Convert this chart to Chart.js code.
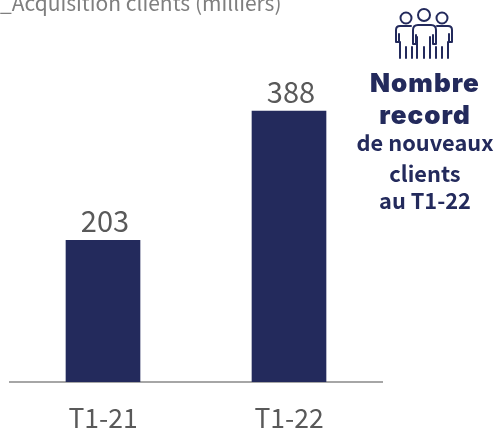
<!DOCTYPE html>
<html><head><meta charset="utf-8">
<script src="https://cdn.jsdelivr.net/npm/chart.js@4"></script>
<style>
html,body{margin:0;padding:0;background:#fff;width:495px;height:432px;overflow:hidden}
#wrap{position:relative;width:495px;height:432px}
canvas{position:absolute;left:0;top:0}
.t{position:absolute;white-space:nowrap}
#title{left:0;top:-11px;font:21px/26px "Noto Sans CJK SC",sans-serif;color:#7f7f7f}
.side{left:340px;width:170px;text-align:center;color:#232a5c}
.big{font:900 26px/30px Inter,sans-serif;letter-spacing:1px}
.small{font:700 21.8px/26px "Noto Sans CJK SC",sans-serif}
#icon{position:absolute;left:395px;top:7px}
</style></head><body>
<div id="wrap">
<canvas id="c" width="495" height="432"></canvas>
<div class="t" id="title">_Acquisition clients (milliers)</div>
<svg id="icon" width="60" height="54" viewBox="0 0 60 54" fill="none" stroke="#232a5c" stroke-width="2" stroke-linecap="round" stroke-linejoin="round">
<circle cx="11" cy="11" r="5.5"/><circle cx="29" cy="8" r="6"/><circle cx="47" cy="11" r="5.5"/>
<path d="M16 19H5q-4 0-4 4v12h3V27M42 19h11q4 0 4 4v12h-3V27"/>
<path d="M23 18h13q5 0 5 5v14h-3V28M21 28v9h-3V23q0-5 5-5"/>
<path d="M5 35v16M11 40v11M17 40v11M22 30v21M29 40v11M35 30v21M41 40v11M47 40v11M53 35v16"/>
</svg>
<div class="t side big" style="top:68px">Nombre</div>
<div class="t side big" style="top:100px">record</div>
<div class="t side small" style="top:129px">de nouveaux</div>
<div class="t side small" style="top:160px">clients</div>
<div class="t side small" style="top:187px">au T1-22</div>
</div>
<script>
const categories = ["T1-21", "T1-22"];
const acquisitions = [203, 388];
const labelPlugin = {
  id: "valueLabels",
  afterDatasetsDraw(chart) {
    const ctx = chart.ctx, meta = chart.getDatasetMeta(0);
    ctx.save();
    ctx.font = '29px "Noto Sans CJK SC", sans-serif';
    ctx.fillStyle = "#595959";
    ctx.textAlign = "center";
    ctx.textBaseline = "alphabetic";
    meta.data.forEach((bar, i) => ctx.fillText(String(acquisitions[i]), bar.x + 2, bar.y - 8));
    ctx.restore();
  }
};
new Chart(document.getElementById("c"), {
  type: "bar",
  data: { labels: categories, datasets: [{ data: acquisitions, backgroundColor: "#232a5c", barThickness: 74 }] },
  options: {
    responsive: false, animation: false,
    layout: { padding: { left: 10, right: 113, top: 33, bottom: 0 } },
    plugins: { legend: { display: false }, tooltip: { enabled: false } },
    scales: {
      x: {
        grid: { display: false, drawTicks: false },
        border: { display: true, color: "#a6a6a6", width: 2 },
        ticks: { color: "#595959", font: { family: '"Noto Sans CJK SC", sans-serif', size: 26.5 }, padding: 20, maxRotation: 0 },
        afterFit(s) { s.height = 50; }
      },
      y: { display: false, min: 0, max: 500 }
    }
  },
  plugins: [labelPlugin]
});
</script>
</body></html>
